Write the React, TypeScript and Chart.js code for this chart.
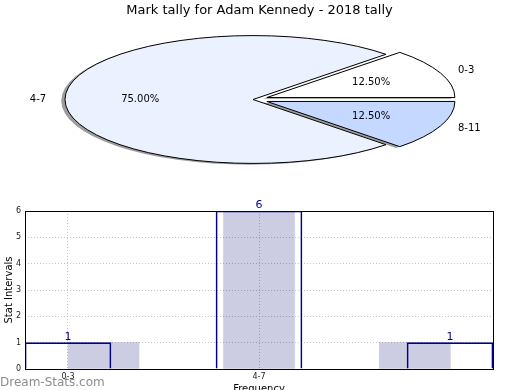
import React, { useEffect, useRef } from "react";
import { Chart, registerables } from "chart.js";

Chart.register(...registerables);

const FONT = "'DejaVu Sans', 'Liberation Sans', sans-serif";
Chart.defaults.font.family = FONT;

// ---------- data ----------
const titleText = "Mark tally for Adam Kennedy - 2018 tally";
const categories = ["0-3", "4-7", "8-11"];
const tallies = [1, 6, 1];
const sliceColors = ["#ffffff", "#ebf1ff", "#c5d8ff"];
const explode = [0.08, 0, 0.08];

const fillCenters = [0.186, 1.0, 1.816];
const xTickValues = [0, 1];
const xTickLabels = ["0-3", "4-7"];
const yTickStep = 1;
const yMax = 6;
const yAxisTitle = "Stat Intervals";
const xAxisTitle = "Frequency";
const watermark = "Dream-Stats.com";

// Chart.js runs clockwise; matplotlib runs counter-clockwise from east
const pieOrder = [2, 1, 0];
const SY = 0.34; // vertical squash of the pie

function makePie(canvas: HTMLCanvasElement) {
  const total = tallies.reduce((a, b) => a + b, 0);
  const piePlugin = {
    id: "ellipsePie",
    beforeDatasetDraw() {
      return false;
    },
    afterDatasetsDraw(chart: any) {
      const ctx: CanvasRenderingContext2D = chart.ctx;
      const meta = chart.getDatasetMeta(0);
      const items = meta.data.map((el: any, k: number) => {
        const src = pieOrder[k];
        const p = el.getProps(["x", "y", "startAngle", "endAngle", "outerRadius"], true);
        const mid = (p.startAngle + p.endAngle) / 2;
        const ex = explode[src] * p.outerRadius;
        return {
          el,
          src,
          p,
          mid,
          cx: p.x + Math.cos(mid) * ex,
          cy: p.y + Math.sin(mid) * ex * SY,
          rx: p.outerRadius,
          ry: p.outerRadius * SY,
        };
      });
      const path = (it: any, dx: number, dy: number) => {
        ctx.beginPath();
        ctx.moveTo(it.cx + dx, it.cy + dy);
        ctx.ellipse(it.cx + dx, it.cy + dy, it.rx, it.ry, 0, it.p.startAngle, it.p.endAngle);
        ctx.closePath();
      };
      ctx.save();
      // shadows
      ctx.fillStyle = "rgba(60,60,60,0.5)";
      items.forEach((it: any) => {
        path(it, -0.02 * it.rx, 0.02 * it.ry);
        ctx.fill();
      });
      // wedge fills (library arcs, squashed)
      items.forEach((it: any) => {
        ctx.save();
        ctx.translate(it.cx, it.cy);
        ctx.scale(1, SY);
        ctx.translate(-it.p.x, -it.p.y);
        it.el.draw(ctx);
        ctx.restore();
      });
      // outlines
      ctx.strokeStyle = "#000";
      ctx.lineWidth = 1;
      items.forEach((it: any) => {
        path(it, 0, 0);
        ctx.stroke();
      });
      // labels
      ctx.font = `10px ${FONT}`;
      ctx.fillStyle = "#000";
      ctx.textBaseline = "middle";
      items.forEach((it: any) => {
        const c = Math.cos(it.mid);
        const s = Math.sin(it.mid);
        ctx.textAlign = c > 0 ? "left" : "right";
        ctx.fillText(categories[it.src], it.cx + 1.1 * it.rx * c, it.cy + 1.1 * it.ry * s);
        ctx.textAlign = "center";
        const pct = ((tallies[it.src] / total) * 100).toFixed(2) + "%";
        ctx.fillText(pct, it.cx + 0.6 * it.rx * c, it.cy + 0.6 * it.ry * s);
      });
      ctx.restore();
    },
    afterDraw(chart: any) {
      const ctx: CanvasRenderingContext2D = chart.ctx;
      ctx.save();
      ctx.font = `13px ${FONT}`;
      ctx.fillStyle = "#000";
      ctx.textAlign = "center";
      ctx.textBaseline = "middle";
      ctx.fillText(titleText, 259.5, 10.5);
      ctx.restore();
    },
  };

  return new Chart(canvas, {
    type: "pie",
    data: {
      labels: pieOrder.map((i) => categories[i]),
      datasets: [
        {
          data: pieOrder.map((i) => tallies[i]),
          backgroundColor: pieOrder.map((i) => sliceColors[i]),
          borderWidth: 0,
          radius: 188,
          rotation: 90,
          clip: false,
        } as any,
      ],
    },
    options: {
      animation: false,
      responsive: false,
      devicePixelRatio: 1,
      events: [],
      radius: 188,
      rotation: 90,
      layout: { padding: { left: 0, right: 14, top: 9, bottom: 0 } },
      plugins: { legend: { display: false }, tooltip: { enabled: false }, title: { display: false } },
    } as any,
    plugins: [piePlugin],
  });
}

function makeBar(canvas: HTMLCanvasElement) {
  const barPlugin = {
    id: "barExtras",
    afterDatasetsDraw(chart: any) {
      const ctx: CanvasRenderingContext2D = chart.ctx;
      const xs = chart.scales.x;
      const ys = chart.scales.y;
      ctx.save();
      ctx.font = `11px ${FONT}`;
      ctx.fillStyle = "#00008b";
      ctx.textAlign = "center";
      ctx.textBaseline = "bottom";
      tallies.forEach((v, i) => {
        ctx.fillText(String(v), xs.getPixelForValue(i), ys.getPixelForValue(v) - 0.5);
      });
      ctx.restore();
    },
    afterDraw(chart: any) {
      const ctx: CanvasRenderingContext2D = chart.ctx;
      const a = chart.chartArea;
      ctx.save();
      ctx.strokeStyle = "#000";
      ctx.lineWidth = 1;
      ctx.strokeRect(Math.round(a.left) + 0.5, Math.round(a.top) + 0.5, Math.round(a.right - a.left), Math.round(a.bottom - a.top));
      ctx.font = `12px ${FONT}`;
      ctx.fillStyle = "#8c8c8c";
      ctx.textAlign = "left";
      ctx.textBaseline = "alphabetic";
      ctx.fillText(watermark, 0, 195.5);
      ctx.restore();
    },
  };

  const gridStyle = { color: "#c4c4c4", drawTicks: false, lineWidth: 1, offset: false };
  const borderStyle = { display: false, dash: [1, 2] };

  return new Chart(canvas, {
    type: "bar",
    data: {
      datasets: [
        {
          label: "outline",
          data: tallies.map((v, i) => ({ x: i, y: v })),
          backgroundColor: "rgba(0,0,0,0)",
          borderColor: "#00008b",
          borderWidth: 1,
          borderSkipped: "bottom",
          barThickness: 86,
          grouped: false,
          order: 1,
        },
        {
          label: "fill",
          data: fillCenters.map((x, i) => ({ x, y: tallies[i] })),
          backgroundColor: "rgba(0,0,110,0.2)",
          borderWidth: 0,
          barThickness: 71,
          grouped: false,
          order: 2,
        },
      ],
    },
    options: {
      animation: false,
      responsive: false,
      devicePixelRatio: 1,
      events: [],
      layout: { padding: { left: 0, right: 27, top: 21, bottom: 0 } },
      plugins: { legend: { display: false }, tooltip: { enabled: false } },
      scales: {
        x: {
          type: "linear",
          offset: false,
          min: -0.225,
          max: 2.225,
          afterBuildTicks: (s: any) => {
            s.ticks = xTickValues.map((v) => ({ value: v }));
          },
          afterFit: (s: any) => {
            s.height = 21;
          },
          ticks: {
            callback: (_v: any, i: number) => xTickLabels[i],
            font: { size: 8 },
            color: "#222",
            padding: 3,
            maxRotation: 0,
            autoSkip: false,
          },
          grid: gridStyle,
          border: borderStyle,
          title: {
            display: true,
            text: xAxisTitle,
            font: { size: 10 },
            color: "#000",
            padding: { top: 0, bottom: -5.5 },
          },
        },
        y: {
          min: 0,
          max: yMax,
          afterFit: (s: any) => {
            s.width = 25;
          },
          ticks: { stepSize: yTickStep, font: { size: 8 }, color: "#222", padding: 4 },
          grid: gridStyle,
          border: borderStyle,
          title: {
            display: true,
            text: yAxisTitle,
            font: { size: 10 },
            color: "#000",
            padding: { top: 3, bottom: 0 },
          },
        },
      },
    } as any,
    plugins: [barPlugin],
  });
}

export default function App() {
  const pieRef = useRef<HTMLCanvasElement>(null);
  const barRef = useRef<HTMLCanvasElement>(null);
  useEffect(() => {
    document.body.style.margin = "0";
    const pie = makePie(pieRef.current!);
    const bar = makeBar(barRef.current!);
    return () => {
      pie.destroy();
      bar.destroy();
    };
  }, []);
  return (
    <div style={{ position: "relative", width: 520, height: 390, overflow: "hidden", background: "#fff" }}>
      <canvas ref={pieRef} width={520} height={190} style={{ position: "absolute", left: 0, top: 0 }} />
      <canvas ref={barRef} width={520} height={200} style={{ position: "absolute", left: 0, top: 190 }} />
    </div>
  );
}
